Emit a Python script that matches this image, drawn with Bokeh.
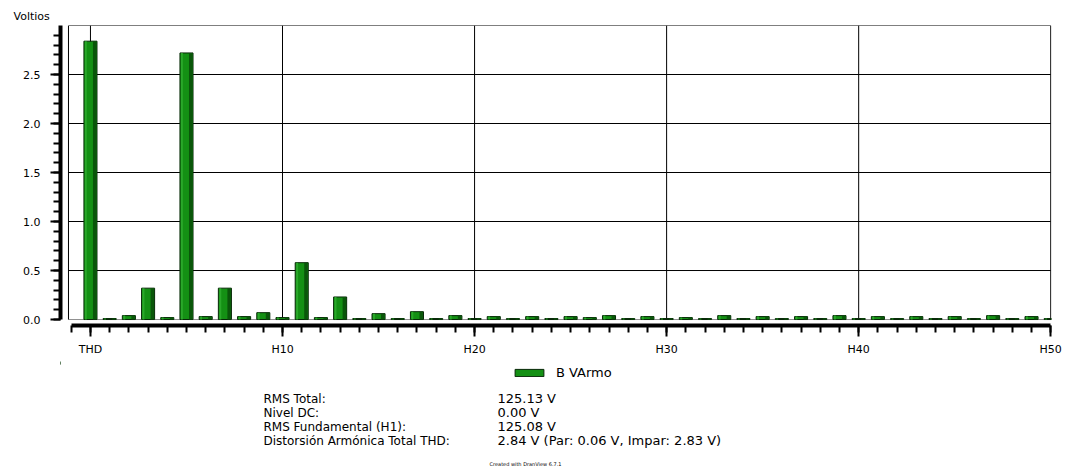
from bokeh.plotting import figure
from bokeh.layouts import column
from bokeh.models import Range1d, FixedTicker, Label, Legend, LegendItem
from bokeh.embed import file_html
from bokeh.resources import INLINE

# ---- data ----
positions = list(range(0, 51))
values = [2.84, 0.01, 0.04, 0.32, 0.02, 2.72, 0.03, 0.32, 0.03, 0.07, 0.02,
          0.58, 0.02, 0.23, 0.01, 0.06, 0.01, 0.08, 0.01, 0.04, 0.01,
          0.03, 0.01, 0.03, 0.01, 0.03, 0.02, 0.04, 0.01, 0.03, 0.01,
          0.02, 0.01, 0.04, 0.01, 0.03, 0.01, 0.03, 0.01, 0.04, 0.01,
          0.03, 0.01, 0.03, 0.01, 0.03, 0.01, 0.04, 0.01, 0.03, 0.01]
series_name = "B VArmo"
x_tick_values = [0, 10, 20, 30, 40, 50]
x_tick_labels = ["THD", "H10", "H20", "H30", "H40", "H50"]
y_tick_values = [0.0, 0.5, 1.0, 1.5, 2.0, 2.5]
y_tick_labels = ["0.0", "0.5", "1.0", "1.5", "2.0", "2.5"]
y_title = "Voltios"
info_labels = ["RMS Total:", "Nivel DC:", "RMS Fundamental (H1):",
               "Distorsión Armónica Total THD:"]
info_values = ["125.13 V", "0.00 V", "125.08 V",
               "2.84 V (Par: 0.06 V, Impar: 2.83 V)"]
credit = "Created with DranView 6.7.1"

FONT = "DejaVu Sans"
X_LEFT = -1.145   # inner frame left edge (data)
X_MAX = 50
Y_MAX = 3.0
W = 1066
BL, BR = 60, 15
PH = 361          # height of the chart figure

p = figure(width=W, height=PH,
           x_range=Range1d(-1.56, X_MAX + 0.04), y_range=Range1d(-0.061, Y_MAX),
           output_backend="svg", toolbar_location=None,
           min_border_left=BL, min_border_right=BR - 1,
           min_border_top=25, min_border_bottom=36)
p.xgrid.grid_line_color = None
p.ygrid.grid_line_color = None
p.outline_line_color = None

# title "Voltios"
p.title.text = y_title
p.title.align = "left"
p.title.vertical_align = "middle"
p.title.offset = -47
p.title.standoff = 4
p.title.text_font = FONT
p.title.text_font_size = "11px"
p.title.text_font_style = "normal"
p.title.text_color = "black"

# grid lines and inner frame (segments so they stay inside the inner frame)
hgrid = y_tick_values[1:] + [Y_MAX]
p.segment(x0=[X_LEFT] * len(hgrid), y0=hgrid, x1=[X_MAX] * len(hgrid), y1=hgrid,
          line_color="black", line_width=1)
p.segment(x0=[X_LEFT], y0=[0], x1=[X_MAX], y1=[0], line_color="#909090", line_width=1)
vgrid = x_tick_values
p.segment(x0=vgrid, y0=[0] * len(vgrid), x1=vgrid, y1=[Y_MAX] * len(vgrid),
          line_color="black", line_width=1)
p.segment(x0=[X_LEFT], y0=[0], x1=[X_LEFT], y1=[Y_MAX], line_color="black", line_width=1)

# bars
BAR_FILL, BAR_LINE = "#149014", "#072807"
bars = p.vbar(x=positions, top=values, bottom=0, width=0.68,
              fill_color=BAR_FILL, line_color=BAR_LINE, line_width=1)
p.vbar(x=[v + 0.22 for v in positions], top=values, bottom=0, width=0.18,
       fill_color="#0a560a", line_color=None)
p.vbar(x=[v - 0.24 for v in positions], top=values, bottom=0, width=0.1,
       fill_color="#2aa82a", line_color=None)

# x axis
xa = p.xaxis[0]
xa.ticker = FixedTicker(ticks=x_tick_values, minor_ticks=list(range(-1, 51)))
xa.major_label_overrides = dict(zip(x_tick_values, x_tick_labels))
xa.bounds = (-1, X_MAX)
xa.axis_line_width = 4
xa.axis_line_color = "black"
xa.major_tick_out = 11
xa.major_tick_in = 0
xa.minor_tick_out = 7
xa.minor_tick_in = 0
xa.major_tick_line_width = 2
xa.minor_tick_line_width = 2
xa.major_tick_line_color = "black"
xa.minor_tick_line_color = "black"
xa.major_label_standoff = 6
xa.major_label_text_font = FONT
xa.major_label_text_font_size = "11px"
xa.major_label_text_color = "black"

# y axis
ya = p.yaxis[0]
ya.ticker = FixedTicker(ticks=y_tick_values,
                        minor_ticks=[round(i * 0.1, 1) for i in range(0, 30)])
ya.major_label_overrides = dict(zip(y_tick_values, y_tick_labels))
ya.bounds = (0, Y_MAX)
ya.axis_line_width = 4
ya.axis_line_color = "black"
ya.major_tick_out = 10
ya.major_tick_in = 0
ya.minor_tick_out = 7
ya.minor_tick_in = 0
ya.major_tick_line_width = 2
ya.minor_tick_line_width = 2
ya.major_tick_line_color = "black"
ya.minor_tick_line_color = "black"
ya.major_label_standoff = 10
ya.major_label_text_font = FONT
ya.major_label_text_font_size = "11px"
ya.major_label_text_color = "black"

# ---- lower panel: legend + info block (page-pixel data coordinates) ----
TOP2 = PH
H2 = 470 - PH
q = figure(width=W, height=H2, x_range=Range1d(BL, W - BR), y_range=Range1d(H2, 0),
           output_backend="svg", toolbar_location=None,
           min_border_left=BL, min_border_right=BR, min_border_top=0, min_border_bottom=0)
q.axis.visible = False
q.grid.grid_line_color = None
q.outline_line_color = None

# legend proxy: same style as the bars; its one datum lies outside this panel's view
proxy = q.vbar(x=positions[:1], top=values[:1], bottom=0, width=0.68,
               fill_color=BAR_FILL, line_color=BAR_LINE, line_width=1)
legend = Legend(items=[LegendItem(label=series_name, renderers=[proxy])],
                location=(511 - BL, H2 - (380 - TOP2)), orientation="horizontal",
                glyph_width=36, glyph_height=9, label_standoff=9,
                padding=0, margin=0, spacing=0, label_height=12,
                border_line_color=None, background_fill_alpha=0,
                label_text_font=FONT, label_text_font_size="13px",
                label_text_color="black")
q.add_layout(legend)

row_y = [398, 412, 426, 440]
for lab, val, yy in zip(info_labels, info_values, row_y):
    q.add_layout(Label(x=263, y=yy - TOP2, text=lab,
                       text_font=FONT, text_font_size="12px", text_baseline="middle",
                       text_align="left", text_color="black"))
    q.add_layout(Label(x=497, y=yy - TOP2, text=val,
                       text_font=FONT, text_font_size="13px", text_baseline="middle",
                       text_align="left", text_color="black"))
q.add_layout(Label(x=525, y=463 - TOP2, text=credit,
                   text_font=FONT, text_font_size="5px", text_baseline="middle",
                   text_align="center", text_color="black"))

layout = column(p, q, spacing=0)
open("out.html", "w").write(file_html(layout, INLINE))
